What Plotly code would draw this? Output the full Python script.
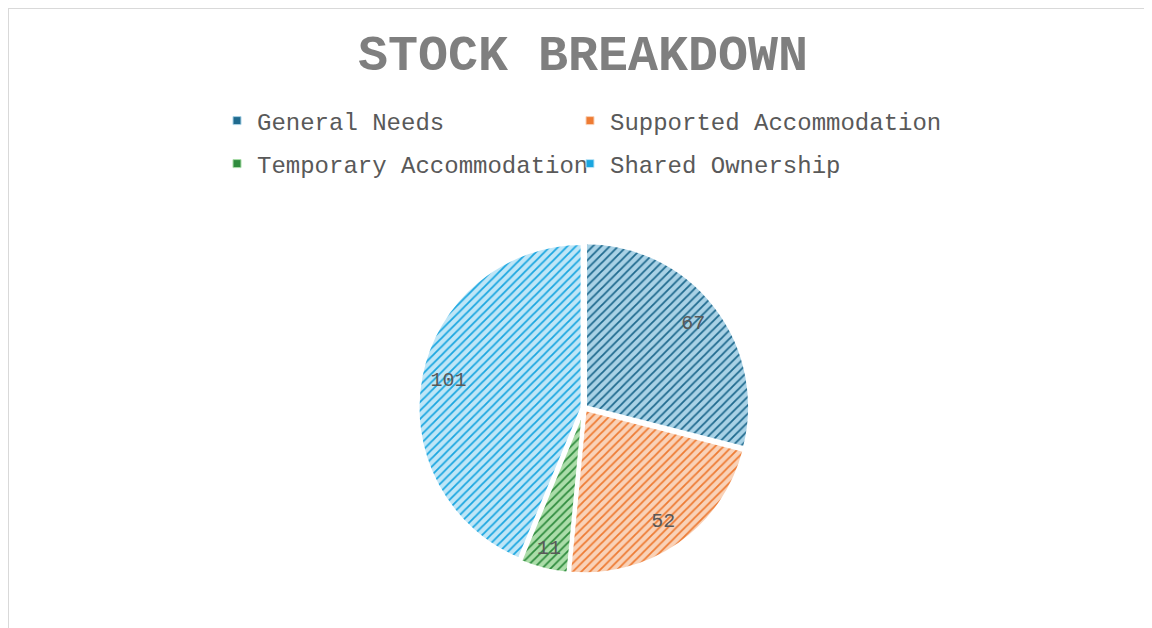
import plotly.graph_objects as go

# The page body has an 8px margin, so the figure is drawn 8px in from the window edge.
OFF = 8
W, H = 1152 - OFF, 628 - OFF

labels = ["General Needs", "Supported Accommodation", "Temporary Accommodation", "Shared Ownership"]
values = [67, 52, 11, 101]
fg_colors = ["#1F6A8E", "#EE7B33", "#2F8C3E", "#1AA6E0"]
bg_colors = ["#A9D2E6", "#F9D2B8", "#ABDDA9", "#BFE6F7"]

title_text = "STOCK BREAKDOWN"
FONT = "Liberation Mono, Courier New, monospace"

# pie geometry in window pixels (centre and radius)
cx, cy, r = 584 - OFF, 408 - OFF, 166
domain = dict(x=[(cx - r) / W, (cx + r) / W], y=[1 - (cy + r) / H, 1 - (cy - r) / H])
pull = [0.012] * len(values)

fig = go.Figure()

# patterned slices
fig.add_trace(go.Pie(
    labels=labels, values=values, sort=False, direction="clockwise", rotation=0,
    pull=pull, textinfo="none", showlegend=False,
    marker=dict(
        colors=bg_colors,
        line=dict(color="white", width=3),
        pattern=dict(shape="/", fgcolor=fg_colors, bgcolor=bg_colors, size=6, solidity=0.3),
    ),
    domain=domain, hoverinfo="label+value",
))

# transparent ring carrying the value labels near the outer edge
fig.add_trace(go.Pie(
    labels=labels, values=values, sort=False, direction="clockwise", rotation=0,
    pull=pull, hole=0.66, showlegend=False,
    textinfo="value", textposition="inside", insidetextorientation="horizontal",
    textfont=dict(family=FONT, size=20, color="#595959"),
    marker=dict(colors=["rgba(0,0,0,0)"] * len(values), line=dict(width=0)),
    domain=domain, hoverinfo="skip",
))

# legend entries: 2 x 2 grid, one legend box per entry
legend_names = ["legend", "legend2", "legend3", "legend4"]
for i, lab in enumerate(labels):
    fig.add_trace(go.Scatter(
        x=[None], y=[None], mode="markers", name=lab,
        marker=dict(symbol="square", size=8, color=fg_colors[i],
                    line=dict(color=bg_colors[i], width=1)),
        legend=legend_names[i],
        hoverinfo="skip",
    ))

col_x = [209, 562]          # left edge of each legend column (figure px)
row_y = [121 - OFF, 164 - OFF]  # centre of each legend row (figure px)

def leg(col, row):
    return dict(
        x=col_x[col] / W, xanchor="left",
        y=1 - row_y[row] / H, yanchor="middle",
        font=dict(family=FONT, size=24, color="#595959"),
        bgcolor="rgba(0,0,0,0)",
    )

fig.update_layout(
    width=W, height=H,
    margin=dict(l=0, r=0, t=0, b=0),
    paper_bgcolor="white",
    plot_bgcolor="white",
    xaxis=dict(visible=False),
    yaxis=dict(visible=False),
    title=dict(
        text="<b>" + title_text + "</b>",
        x=(583 - OFF) / W, xanchor="center",
        y=1 - 44 / H, yanchor="middle",
        font=dict(family=FONT, size=50, color="#7F7F7F"),
    ),
    legend=leg(0, 0),
    legend2=leg(1, 0),
    legend3=leg(0, 1),
    legend4=leg(1, 1),
    shapes=[dict(
        type="rect", xref="paper", yref="paper",
        x0=0.0 / W, x1=1.05, y0=-0.05, y1=1 - 0.0 / H,
        line=dict(color="#D9D9D9", width=2),
        fillcolor="rgba(0,0,0,0)",
        layer="below",
    )],
)

fig.write_html("out.html")
